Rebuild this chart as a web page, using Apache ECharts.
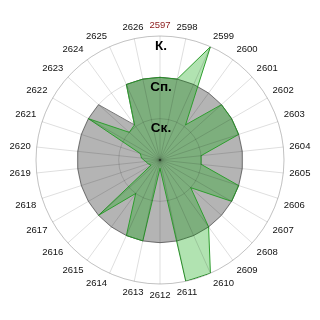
<!DOCTYPE html>
<html><head><meta charset="utf-8">
<style>html,body{margin:0;padding:0;background:#fff}#c{width:320px;height:320px}</style>
<script src="https://cdn.jsdelivr.net/npm/echarts@6/dist/echarts.min.js"></script>
</head><body><div id="c"></div>
<script>
const categories = ['2597','2598','2599','2600','2601','2602','2603','2604','2605','2606',
  '2607','2608','2609','2610','2611','2612','2613','2614','2615','2616',
  '2617','2618','2619','2620','2621','2622','2623','2624','2625','2626'];
const greenValues = [2,2,3,1.05,2,2,2,1,1,2, 2,1,2,3,3,0.2,2,2,1,2, 0.25,0.3,0.35,0.45,0.5,2,1,1.05,2,2];
const grayValues  = [2,2,2,2,2,2,2,2,2,2, 2,2,2,2,2,2,2,2,2,2, 2,2,2,2,2,2,2,1.05,2,2];
const radialLabels = ['', 'Ск.', 'Сп.', 'К.'];

function closed(vals){
  const d = vals.map((v,i)=>[v,i]);
  d.push([vals[0], vals.length]);
  return d;
}
const chart = echarts.init(document.getElementById('c'), null, {renderer:'canvas'});
const gridColor = 'rgba(0,0,0,0.13)';
chart.setOption({
  animation:false,
  polar:{center:['50%','50%'], radius:124},
  angleAxis:{
    type:'value', min:0, max:categories.length, interval:1, startAngle:90, clockwise:true,
    z:10,
    axisLine:{show:true, lineStyle:{color:gridColor}},
    axisTick:{show:false},
    splitLine:{show:true, lineStyle:{color:gridColor, width:1}},
    axisLabel:{
      margin:6, fontSize:9.5, fontFamily:'Liberation Sans, Arial, sans-serif', color:'#111',
      formatter:function(v){ const i=Math.round(v); if(i>=categories.length) return ''; return i===0 ? '{r|'+categories[i]+'}' : categories[i]; },
      rich:{r:{color:'#8b1a1a', fontSize:9.5, fontFamily:'Liberation Sans, Arial, sans-serif'}}
    }
  },
  radiusAxis:{
    type:'value', min:0, max:3, interval:1, z:10,
    axisLine:{show:false}, axisTick:{show:false},
    splitLine:{show:true, lineStyle:{color:gridColor, width:1}},
    axisLabel:{
      formatter:function(v){ return radialLabels[Math.round(v)] || ''; },
      margin:0, align:'center', verticalAlign:'top', padding:[3,0,0,2],
      fontSize:13.5, fontWeight:'bold', color:'#000', fontFamily:'Liberation Sans, Arial, sans-serif'
    }
  },
  series:[
    {type:'line', coordinateSystem:'polar', data:closed(grayValues), showSymbol:false, silent:true,
     lineStyle:{color:'#7a7a7a', width:1}, areaStyle:{color:'#b4b4b4', opacity:1}, z:2},
    {type:'line', coordinateSystem:'polar', data:closed(greenValues), showSymbol:false, silent:true,
     lineStyle:{color:'#2e9e2e', width:1}, areaStyle:{color:'rgba(0,165,0,0.44)'}, z:3}
  ]
});
</script></body></html>
